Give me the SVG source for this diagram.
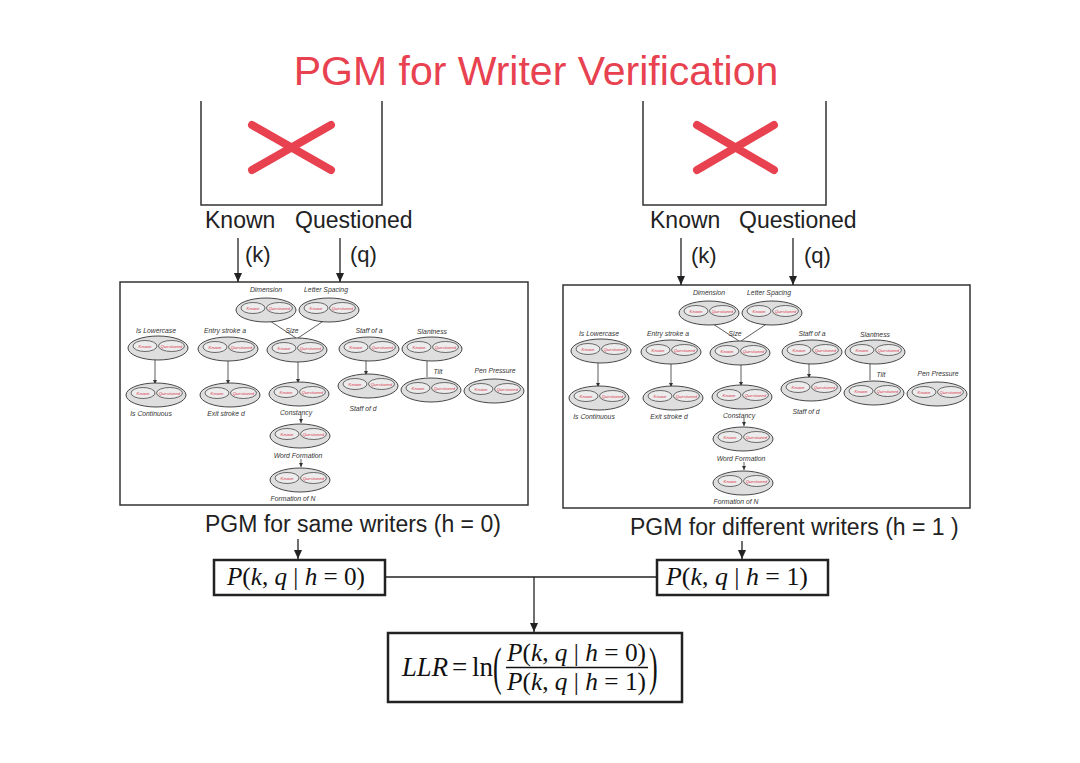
<svg xmlns="http://www.w3.org/2000/svg" xmlns:xlink="http://www.w3.org/1999/xlink" width="1080" height="763" viewBox="0 0 1080 763">
<style>
.t{font-family:"Liberation Sans",Arial,sans-serif;fill:#222}
.big{font-size:23px}
.title{font-family:"Liberation Sans",Arial,sans-serif;font-size:41px;fill:#e8414f}
.m{font-family:"Liberation Serif","Times New Roman",serif;fill:#111}
.it{font-style:italic}
.ln{stroke:#222;stroke-width:1.3;fill:none}
.sl{stroke:#333;stroke-width:0.8;fill:none}
.frame{fill:none;stroke:#333;stroke-width:1.5}
.fbox{fill:#fff;stroke:#222;stroke-width:2.5}
.x{stroke:#e8414f;stroke-width:8;stroke-linecap:round}
.o{fill:#dedede;stroke:#333;stroke-width:0.9}
.i{fill:#ececec;stroke:#333;stroke-width:0.7}
.k{font-family:"Liberation Sans",Arial,sans-serif;font-style:italic;font-size:4.2px;fill:#d9364a;text-anchor:middle}
.lb{font-family:"Liberation Sans",Arial,sans-serif;font-style:italic;font-size:6.8px;fill:#333;text-anchor:middle}
</style>
<defs>
<marker id="ah" markerUnits="userSpaceOnUse" markerWidth="9" markerHeight="8" refX="9" refY="4" orient="auto"><path d="M0,0 L9,4 L0,8 z" fill="#222"/></marker>
<marker id="sa" markerUnits="userSpaceOnUse" markerWidth="4" markerHeight="4" refX="4" refY="2" orient="auto"><path d="M0,0 L4,2 L0,4 z" fill="#333"/></marker>
<g id="oval"><ellipse rx="30" ry="12" class="o"/><ellipse cx="-13" cy="-2" rx="12" ry="5.5" class="i"/><ellipse cx="13.5" cy="-2" rx="13" ry="5.5" class="i"/></g>
</defs>
<rect width="1080" height="763" fill="#fff"/>

<text id="title" class="title" x="536" y="85" text-anchor="middle">PGM for Writer Verification</text>

<!-- top input boxes -->
<g id="input-left">
<path class="frame" d="M201,101 V205 H382 V101"/>
<line class="x" x1="252" y1="125" x2="331" y2="170"/><line class="x" x1="252" y1="170" x2="331" y2="125"/>
<text class="t big" x="205" y="228">Known</text>
<text class="t big" x="295" y="228">Questioned</text>
<text class="t" font-size="22" x="245" y="262">(k)</text>
<text class="t" font-size="22" x="350" y="262">(q)</text>
</g>
<g id="input-right">
<path class="frame" d="M643,101 V205 H826 V101"/>
<line class="x" x1="697" y1="125" x2="774" y2="170"/><line class="x" x1="697" y1="170" x2="774" y2="125"/>
<text class="t big" x="650" y="228">Known</text>
<text class="t big" x="739" y="228">Questioned</text>
<text class="t" font-size="22" x="691" y="263">(k)</text>
<text class="t" font-size="22" x="804" y="263">(q)</text>
</g>

<!-- PGM left -->
<g id="pgm-left">
<rect class="frame" x="120" y="282" width="408" height="223"/>
<g class="sl">
<line x1="270" y1="321" x2="296" y2="338"/><line x1="325" y1="320" x2="298" y2="338"/>
<line x1="155" y1="359" x2="155" y2="384" marker-end="url(#sa)"/>
<line x1="228" y1="360" x2="228" y2="384" marker-end="url(#sa)"/>
<line x1="298" y1="362" x2="298" y2="383" marker-end="url(#sa)"/>
<line x1="366" y1="359" x2="366" y2="375" marker-end="url(#sa)"/>
<line x1="427" y1="361" x2="427" y2="377"/>
<line x1="301" y1="415" x2="301" y2="423" marker-end="url(#sa)"/>
<line x1="301" y1="459" x2="301" y2="467" marker-end="url(#sa)"/>
</g>
<g id="L-dimension" transform="translate(266,310)"><use href="#oval"/><text class="k" x="-13" y="-0.5">Known</text><text class="k" x="13.5" y="-0.5">Questioned</text><text class="lb" y="-18.5">Dimension</text></g>
<g id="L-letterspacing" transform="translate(329,310)"><use href="#oval"/><text class="k" x="-13" y="-0.5">Known</text><text class="k" x="13.5" y="-0.5">Questioned</text><text class="lb" x="-3" y="-18.5">Letter Spacing</text></g>
<g id="L-islowercase" transform="translate(158,348)"><use href="#oval"/><text class="k" x="-13" y="-0.5">Known</text><text class="k" x="13.5" y="-0.5">Questioned</text><text class="lb" x="-2" y="-15.5">Is Lowercase</text></g>
<g id="L-entrystroke" transform="translate(228,349)"><use href="#oval"/><text class="k" x="-13" y="-0.5">Known</text><text class="k" x="13.5" y="-0.5">Questioned</text><text class="lb" x="-3" y="-16.5">Entry stroke a</text></g>
<g id="L-size" transform="translate(297,350)"><use href="#oval"/><text class="k" x="-13" y="-0.5">Known</text><text class="k" x="13.5" y="-0.5">Questioned</text><text class="lb" x="-5" y="-17.5">Size</text></g>
<g id="L-staffa" transform="translate(369,349)"><use href="#oval"/><text class="k" x="-13" y="-0.5">Known</text><text class="k" x="13.5" y="-0.5">Questioned</text><text class="lb" y="-16.5">Staff of a</text></g>
<g id="L-slantness" transform="translate(432,349)"><use href="#oval"/><text class="k" x="-13" y="-0.5">Known</text><text class="k" x="13.5" y="-0.5">Questioned</text><text class="lb" y="-15.5">Slantness</text></g>
<g id="L-iscontinuous" transform="translate(156,395)"><use href="#oval"/><text class="k" x="-13" y="-0.5">Known</text><text class="k" x="13.5" y="-0.5">Questioned</text><text class="lb" x="-5" y="20.5">Is Continuous</text></g>
<g id="L-exitstroke" transform="translate(230,395)"><use href="#oval"/><text class="k" x="-13" y="-0.5">Known</text><text class="k" x="13.5" y="-0.5">Questioned</text><text class="lb" x="-4" y="20.5">Exit stroke d</text></g>
<g id="L-constancy" transform="translate(299,394)"><use href="#oval"/><text class="k" x="-13" y="-0.5">Known</text><text class="k" x="13.5" y="-0.5">Questioned</text><text class="lb" x="-3" y="20.5">Constancy</text></g>
<g id="L-staffd" transform="translate(368,386)"><use href="#oval"/><text class="k" x="-13" y="-0.5">Known</text><text class="k" x="13.5" y="-0.5">Questioned</text><text class="lb" x="-5" y="24.5">Staff of d</text></g>
<g id="L-tilt" transform="translate(431,390)"><use href="#oval"/><text class="k" x="-13" y="-0.5">Known</text><text class="k" x="13.5" y="-0.5">Questioned</text><text class="lb" x="7" y="-16.5">Tilt</text></g>
<g id="L-penpressure" transform="translate(494,391)"><use href="#oval"/><text class="k" x="-13" y="-0.5">Known</text><text class="k" x="13.5" y="-0.5">Questioned</text><text class="lb" x="1" y="-18.5">Pen Pressure</text></g>
<g id="L-wordformation" transform="translate(300,436)"><use href="#oval"/><text class="k" x="-13" y="-0.5">Known</text><text class="k" x="13.5" y="-0.5">Questioned</text><text class="lb" x="-2" y="21.5">Word Formation</text></g>
<g id="L-formationN" transform="translate(300,480)"><use href="#oval"/><text class="k" x="-13" y="-0.5">Known</text><text class="k" x="13.5" y="-0.5">Questioned</text><text class="lb" x="-7" y="20.5">Formation of N</text></g>
</g>

<!-- PGM right -->
<g id="pgm-right" transform="translate(443,3)">
<rect class="frame" x="120" y="282" width="407" height="223"/>
<g class="sl">
<line x1="270" y1="321" x2="296" y2="338"/><line x1="325" y1="320" x2="298" y2="338"/>
<line x1="155" y1="359" x2="155" y2="384" marker-end="url(#sa)"/>
<line x1="228" y1="360" x2="228" y2="384" marker-end="url(#sa)"/>
<line x1="298" y1="362" x2="298" y2="383" marker-end="url(#sa)"/>
<line x1="366" y1="359" x2="366" y2="375" marker-end="url(#sa)"/>
<line x1="427" y1="361" x2="427" y2="377"/>
<line x1="301" y1="415" x2="301" y2="423" marker-end="url(#sa)"/>
<line x1="301" y1="459" x2="301" y2="467" marker-end="url(#sa)"/>
</g>
<g id="R-dimension" transform="translate(266,310)"><use href="#oval"/><text class="k" x="-13" y="-0.5">Known</text><text class="k" x="13.5" y="-0.5">Questioned</text><text class="lb" y="-18.5">Dimension</text></g>
<g id="R-letterspacing" transform="translate(329,310)"><use href="#oval"/><text class="k" x="-13" y="-0.5">Known</text><text class="k" x="13.5" y="-0.5">Questioned</text><text class="lb" x="-3" y="-18.5">Letter Spacing</text></g>
<g id="R-islowercase" transform="translate(158,348)"><use href="#oval"/><text class="k" x="-13" y="-0.5">Known</text><text class="k" x="13.5" y="-0.5">Questioned</text><text class="lb" x="-2" y="-15.5">Is Lowercase</text></g>
<g id="R-entrystroke" transform="translate(228,349)"><use href="#oval"/><text class="k" x="-13" y="-0.5">Known</text><text class="k" x="13.5" y="-0.5">Questioned</text><text class="lb" x="-3" y="-16.5">Entry stroke a</text></g>
<g id="R-size" transform="translate(297,350)"><use href="#oval"/><text class="k" x="-13" y="-0.5">Known</text><text class="k" x="13.5" y="-0.5">Questioned</text><text class="lb" x="-5" y="-17.5">Size</text></g>
<g id="R-staffa" transform="translate(369,349)"><use href="#oval"/><text class="k" x="-13" y="-0.5">Known</text><text class="k" x="13.5" y="-0.5">Questioned</text><text class="lb" y="-16.5">Staff of a</text></g>
<g id="R-slantness" transform="translate(432,349)"><use href="#oval"/><text class="k" x="-13" y="-0.5">Known</text><text class="k" x="13.5" y="-0.5">Questioned</text><text class="lb" y="-15.5">Slantness</text></g>
<g id="R-iscontinuous" transform="translate(156,395)"><use href="#oval"/><text class="k" x="-13" y="-0.5">Known</text><text class="k" x="13.5" y="-0.5">Questioned</text><text class="lb" x="-5" y="20.5">Is Continuous</text></g>
<g id="R-exitstroke" transform="translate(230,395)"><use href="#oval"/><text class="k" x="-13" y="-0.5">Known</text><text class="k" x="13.5" y="-0.5">Questioned</text><text class="lb" x="-4" y="20.5">Exit stroke d</text></g>
<g id="R-constancy" transform="translate(299,394)"><use href="#oval"/><text class="k" x="-13" y="-0.5">Known</text><text class="k" x="13.5" y="-0.5">Questioned</text><text class="lb" x="-3" y="20.5">Constancy</text></g>
<g id="R-staffd" transform="translate(368,386)"><use href="#oval"/><text class="k" x="-13" y="-0.5">Known</text><text class="k" x="13.5" y="-0.5">Questioned</text><text class="lb" x="-5" y="24.5">Staff of d</text></g>
<g id="R-tilt" transform="translate(431,390)"><use href="#oval"/><text class="k" x="-13" y="-0.5">Known</text><text class="k" x="13.5" y="-0.5">Questioned</text><text class="lb" x="7" y="-16.5">Tilt</text></g>
<g id="R-penpressure" transform="translate(494,391)"><use href="#oval"/><text class="k" x="-13" y="-0.5">Known</text><text class="k" x="13.5" y="-0.5">Questioned</text><text class="lb" x="1" y="-18.5">Pen Pressure</text></g>
<g id="R-wordformation" transform="translate(300,436)"><use href="#oval"/><text class="k" x="-13" y="-0.5">Known</text><text class="k" x="13.5" y="-0.5">Questioned</text><text class="lb" x="-2" y="21.5">Word Formation</text></g>
<g id="R-formationN" transform="translate(300,480)"><use href="#oval"/><text class="k" x="-13" y="-0.5">Known</text><text class="k" x="13.5" y="-0.5">Questioned</text><text class="lb" x="-7" y="20.5">Formation of N</text></g>
</g>

<text id="label-same" class="t big" x="205" y="532">PGM for same writers (h = 0)</text>
<text id="label-diff" class="t big" x="630" y="535">PGM for different writers (h = 1 )</text>

<!-- connectors -->
<g id="connectors" class="ln">
<line x1="238" y1="238" x2="238" y2="282" marker-end="url(#ah)"/>
<line x1="340" y1="238" x2="340" y2="282" marker-end="url(#ah)"/>
<line x1="681" y1="238" x2="681" y2="285" marker-end="url(#ah)"/>
<line x1="793" y1="238" x2="793" y2="285" marker-end="url(#ah)"/>
<line x1="298" y1="539" x2="298" y2="559" marker-end="url(#ah)"/>
<line x1="742" y1="541" x2="742" y2="559" marker-end="url(#ah)"/>
<line x1="385" y1="577" x2="657" y2="577"/>
<line x1="534" y1="577" x2="534" y2="632" marker-end="url(#ah)"/>
</g>

<g id="p-same">
<rect class="fbox" x="214" y="560" width="171" height="35"/>
<text class="m" font-size="26" x="227" y="585" textLength="138" lengthAdjust="spacingAndGlyphs"><tspan class="it">P</tspan>(<tspan class="it">k</tspan>, <tspan class="it">q</tspan> | <tspan class="it">h</tspan> = 0)</text>
</g>
<g id="p-diff">
<rect class="fbox" x="657" y="560" width="171" height="35"/>
<text class="m" font-size="26" x="666" y="585" textLength="142" lengthAdjust="spacingAndGlyphs"><tspan class="it">P</tspan>(<tspan class="it">k</tspan>, <tspan class="it">q</tspan> | <tspan class="it">h</tspan> = 1)</text>
</g>

<g id="llr">
<rect class="fbox" x="388" y="633" width="294" height="69"/>
<text class="m it" font-size="27" x="402" y="676" textLength="46" lengthAdjust="spacingAndGlyphs">LLR</text>
<text class="m" font-size="27" x="452" y="676">=</text>
<text class="m" font-size="27" x="472" y="676">ln</text>
<text class="m" font-size="26" transform="translate(493,684) scale(1,2.05)">(</text>
<text class="m" font-size="25" x="507" y="661" textLength="139" lengthAdjust="spacingAndGlyphs"><tspan class="it">P</tspan>(<tspan class="it">k</tspan>, <tspan class="it">q</tspan> | <tspan class="it">h</tspan> = 0)</text>
<line x1="506" y1="667.5" x2="648" y2="667.5" stroke="#111" stroke-width="1.5"/>
<text class="m" font-size="25" x="507" y="690" textLength="139" lengthAdjust="spacingAndGlyphs"><tspan class="it">P</tspan>(<tspan class="it">k</tspan>, <tspan class="it">q</tspan> | <tspan class="it">h</tspan> = 1)</text>
<text class="m" font-size="26" transform="translate(649,684) scale(1,2.05)">)</text>
</g>
</svg>
